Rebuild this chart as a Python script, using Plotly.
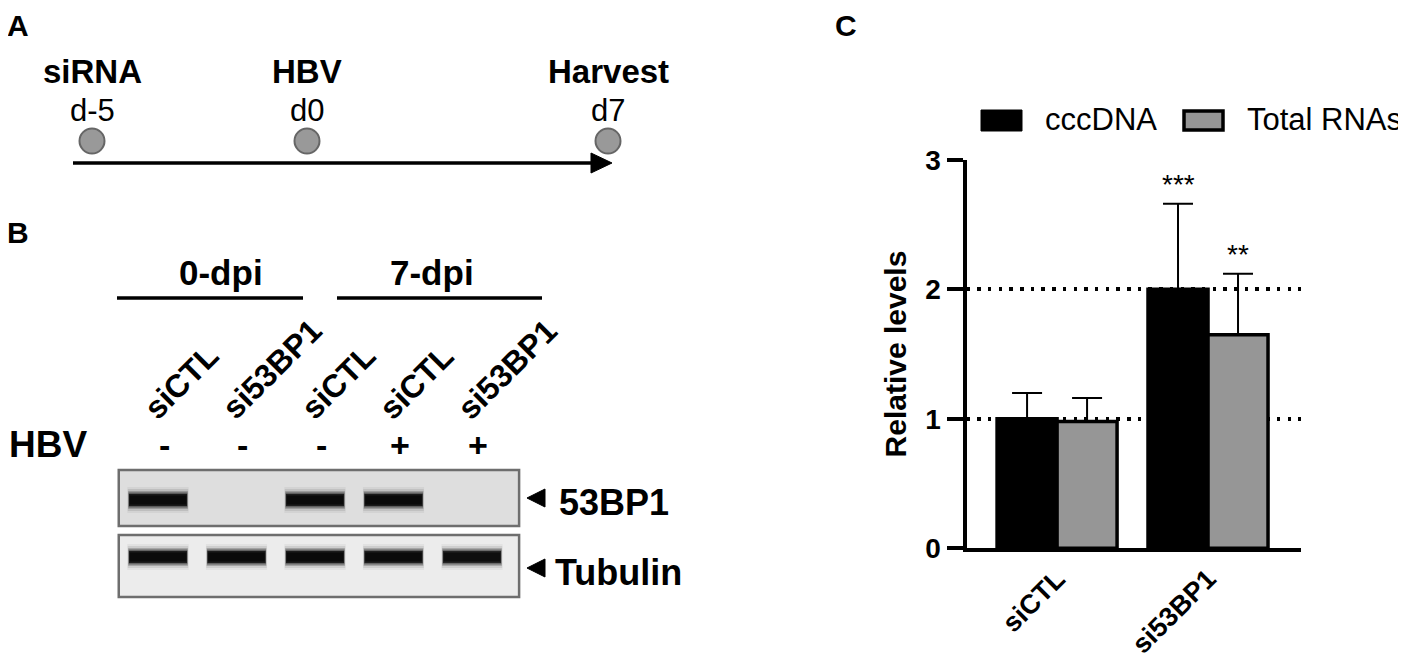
import plotly.graph_objects as go

W, H = 1406, 660
OFF = 8  # page body margin in the viewer
FONT = "Liberation Sans, Arial, sans-serif"

# ---- panel C data ----
groups = ["siCTL", "si53BP1"]
cccdna = [1.0, 2.0]
cccdna_err = [0.20, 0.66]
total_rna = [0.98, 1.65]
total_rna_err = [0.18, 0.47]
stars_ccc = ["", "***"]
stars_rna = ["", "**"]
y_ticks = [0, 1, 2, 3]
ref_lines = [1, 2]

# ---- panel A data ----
events = ["siRNA", "HBV", "Harvest"]
event_days = [-5, 0, 7]
day_labels = ["d-5", "d0", "d7"]

# ---- panel B data ----
lanes = [1, 2, 3, 4, 5]
lane_labels = ["siCTL", "si53BP1", "siCTL", "siCTL", "si53BP1"]
hbv_status = ["-", "-", "-", "+", "+"]
band_53bp1 = [0.95, 0.0, 0.92, 0.94, 0.0]
band_tubulin = [0.93, 0.94, 0.94, 0.91, 0.86]


def px(x):
    return (x - OFF) / W


def py(y):
    return 1 - (y - OFF) / H


def bfont(size):
    return dict(size=size, color="black", family=FONT, weight="bold")


def rfont(size):
    return dict(size=size, color="black", family=FONT)


fig = go.Figure()

# panel C bars
fig.add_trace(go.Bar(
    x=groups, y=cccdna, name="cccDNA",
    marker=dict(color="black", line=dict(color="black", width=3.5)),
    error_y=dict(type="data", array=cccdna_err, arrayminus=[0] * len(cccdna),
                 symmetric=False, color="black", thickness=2, width=15),
))
fig.add_trace(go.Bar(
    x=groups, y=total_rna, name="Total RNAs",
    marker=dict(color="#969696", line=dict(color="black", width=3.5)),
    error_y=dict(type="data", array=total_rna_err, arrayminus=[0] * len(total_rna),
                 symmetric=False, color="black", thickness=2, width=15),
))

# panel A timeline points
fig.add_trace(go.Scatter(
    x=event_days, y=[0] * len(event_days), xaxis="x3", yaxis="y3", mode="markers",
    marker=dict(size=25, color="#999999", line=dict(color="#666666", width=2)),
    hoverinfo="skip",
))


# panel B blot bands (soft edges from stacked translucent strokes)
def add_band(lane, v, yaxis):
    if v <= 0.02:
        return
    layers = [(26, 0.05, 0.39), (22, 0.10, 0.385), (18, 0.22, 0.38),
              (15, 0.45, 0.375), (12, 0.85, 0.37), (9, 1.0, 0.36)]
    for w, a, half in layers:
        fig.add_trace(go.Scatter(
            x=[lane - half, lane + half], y=[0, 0], xaxis="x4", yaxis=yaxis,
            mode="lines", line=dict(color="rgba(10,10,10,%.2f)" % (a * v), width=w),
            hoverinfo="skip",
        ))


for ln, v in zip(lanes, band_53bp1):
    add_band(ln, v, "y4")
for ln, v in zip(lanes, band_tubulin):
    add_band(ln, v, "y5")

shapes = []
ann = []

# panel C legend
shapes.append(dict(type="rect", xref="paper", yref="paper", x0=px(981), x1=px(1022),
                   y0=py(131), y1=py(110), fillcolor="black", line=dict(color="black", width=1)))
shapes.append(dict(type="rect", xref="paper", yref="paper", x0=px(1184), x1=px(1223),
                   y0=py(130), y1=py(111), fillcolor="#969696", line=dict(color="black", width=3.5)))
ann.append(dict(text="cccDNA", x=px(1043), y=py(120), xanchor="left", yanchor="middle",
                font=rfont(31)))
ann.append(dict(text="Total RNAs", x=px(1245), y=py(120), xanchor="left", yanchor="middle",
                font=rfont(31)))

# significance stars
for i, g in enumerate(groups):
    for s, val, err, shift in [(stars_ccc[i], cccdna[i], cccdna_err[i], -30),
                               (stars_rna[i], total_rna[i], total_rna_err[i], 30)]:
        if s:
            ann.append(dict(text=s, xref="x", yref="y", x=g, y=val + err, xshift=shift,
                            yshift=2, xanchor="center", yanchor="bottom", font=rfont(28)))

# panel labels
for lab, x, y in [("A", 18, 26), ("B", 18, 233), ("C", 846, 25)]:
    ann.append(dict(text=lab, x=px(x), y=py(y), xanchor="center", yanchor="middle",
                    font=bfont(30)))

# panel A text + arrow
for ev, d, dl in zip(events, event_days, day_labels):
    ann.append(dict(text=ev, xref="x3", x=d, y=py(71), xanchor="center",
                    yanchor="middle", font=bfont(33)))
    ann.append(dict(text=dl, xref="x3", x=d, y=py(110), xanchor="center",
                    yanchor="middle", font=rfont(31)))
shapes.append(dict(type="line", xref="paper", yref="paper", x0=px(73), x1=px(595),
                   y0=py(163), y1=py(163), line=dict(color="black", width=3.5)))
shapes.append(dict(type="path", xref="paper", yref="paper",
                   path="M %f %f L %f %f L %f %f Z" % (px(591), py(153), px(612), py(163), px(591), py(173)),
                   fillcolor="black", line=dict(color="black", width=1)))

# panel B headers
for txt, cx, x0, x1 in [("0-dpi", 221, 117, 303), ("7-dpi", 432, 337, 542)]:
    ann.append(dict(text=txt, x=px(cx), y=py(272), xanchor="center", yanchor="middle",
                    font=bfont(35)))
    shapes.append(dict(type="line", xref="paper", yref="paper", x0=px(x0), x1=px(x1),
                       y0=py(298), y1=py(298), line=dict(color="black", width=3.5)))

for ln, lab, hb in zip(lanes, lane_labels, hbv_status):
    ann.append(dict(text=lab, xref="x4", x=ln, xshift=-24, y=py(429), xanchor="left",
                    yanchor="bottom", textangle=-45, font=bfont(32)))
    ann.append(dict(text=hb, xref="x4", x=ln, xshift=6, y=py(445), xanchor="center",
                    yanchor="middle", font=bfont(34)))
ann.append(dict(text="HBV", x=px(48), y=py(444), xanchor="center", yanchor="middle",
                font=bfont(37)))

# blot frames
for ya, fill in [("y4", "#dedede"), ("y5", "#ececec")]:
    shapes.append(dict(type="rect", xref="x4 domain", yref=ya + " domain", x0=0, x1=1, y0=0, y1=1,
                       fillcolor=fill, line=dict(color="#6e6e6e", width=2.5), layer="below"))

# blot labels
for txt, cy, tx in [("53BP1", 502, 557), ("Tubulin", 572, 553)]:
    shapes.append(dict(type="path", xref="paper", yref="paper",
                       path="M %f %f L %f %f L %f %f Z" % (px(527), py(cy - 4), px(545), py(cy - 13), px(545), py(cy + 5)),
                       fillcolor="black", line=dict(color="black", width=1)))
    ann.append(dict(text=txt, x=px(tx), y=py(cy), xanchor="left", yanchor="middle",
                    font=bfont(36)))

for a in ann:
    a.setdefault("xref", "paper")
    a.setdefault("yref", "paper")
    a["showarrow"] = False

hidden = dict(visible=False, automargin=False, showgrid=False, zeroline=False)

fig.update_layout(
    template="none",
    width=W, height=H, margin=dict(l=0, r=0, t=0, b=0, pad=0, autoexpand=False),
    paper_bgcolor="white", plot_bgcolor="rgba(0,0,0,0)",
    font=dict(family=FONT, color="black"),
    showlegend=False, barmode="group", bargap=0.205, bargroupgap=0,
    xaxis=dict(domain=[px(966.5), px(1301)], range=[-0.6, 1.616], anchor="y",
               automargin=False, showline=True, linecolor="black", linewidth=4, ticks="",
               tickangle=-45, tickfont=bfont(27), showgrid=False, zeroline=False),
    yaxis=dict(domain=[py(548.3), py(159.8)], range=[0, 3], anchor="x", automargin=False,
               tickvals=y_ticks, ticks="outside", ticklen=16, tickwidth=4, tickcolor="black",
               showline=True, linecolor="black", linewidth=4, zeroline=False,
               showgrid=False, tickfont=bfont(28),
               title=dict(text="Relative levels", font=bfont(30), standoff=11),
               minor=dict(tickvals=ref_lines, showgrid=True, gridcolor="black", gridwidth=3.5,
                          griddash="3.5px,7.2px", ticks="")),
    xaxis3=dict(domain=[px(14.6), px(694)], range=[-6.8, 9], anchor="y3", **hidden),
    yaxis3=dict(domain=[py(161), py(121)], range=[-1, 1], anchor="x3", **hidden),
    xaxis4=dict(domain=[px(118.75), px(519.1)], range=[0.5, 5.6], anchor="y4", **hidden),
    yaxis4=dict(domain=[py(526), py(470)], range=[-0.928, 1.072], anchor="x4", **hidden),
    yaxis5=dict(domain=[py(597), py(535)], range=[-1.29, 0.71], anchor="x4", **hidden),
    shapes=shapes, annotations=ann,
)

fig.write_html("out.html")
